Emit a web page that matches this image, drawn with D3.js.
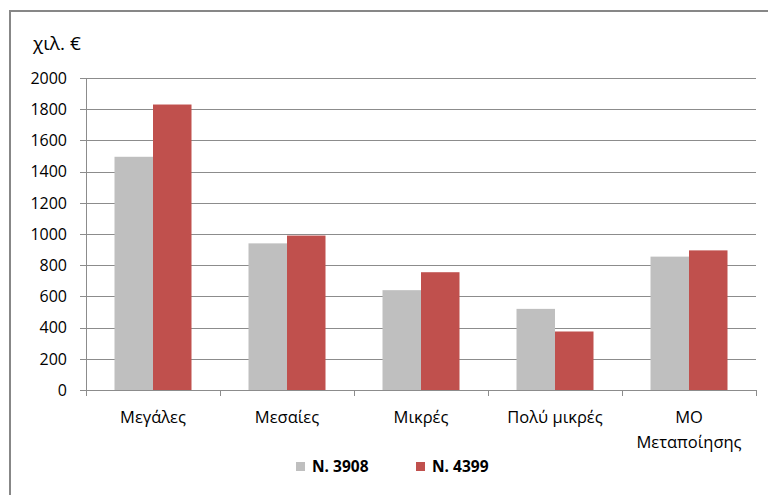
<!DOCTYPE html>
<html><head><meta charset="utf-8">
<script src="https://cdn.jsdelivr.net/npm/d3@7"></script>
<style>body{margin:0;background:#fff}svg{display:block}text{font-family:"Open Sans","Noto Sans",sans-serif}</style>
</head><body>
<svg id="c" width="768" height="495"></svg>
<script>
(function(){
const categories = [["Μεγάλες"],["Μεσαίες"],["Μικρές"],["Πολύ μικρές"],["ΜΟ","Μεταποίησης"]];
const seriesNames = ["N. 3908","N. 4399"];
const seriesColors = ["#BFBFBF","#C0504D"];
const values3908 = [1495, 940, 640, 520, 855];
const values4399 = [1830, 990, 755, 375, 895];
const yTicks = [0,200,400,600,800,1000,1200,1400,1600,1800,2000];
const yTitle = "χιλ. €";

const svg = d3.select("#c");
svg.append("rect").attr("x",10).attr("y",11).attr("width",800).attr("height",600)
  .attr("fill","#fff").attr("stroke","#878787").attr("stroke-width",2);

const pl=86, pr=756, pt=78, pb=390;
const x = d3.scaleBand().domain(d3.range(categories.length)).range([pl,pr]);
const y = d3.scaleLinear().domain([0,2000]).range([pb,pt]);
const barW = 38.5;

svg.append("g").selectAll("line").data(yTicks).join("line")
  .attr("x1",pl-6).attr("x2",pr).attr("y1",d=>Math.round(y(d))+0.5).attr("y2",d=>Math.round(y(d))+0.5)
  .attr("stroke","#8c8c8c").attr("stroke-width",1);

svg.append("g").selectAll("text").data(yTicks).join("text")
  .attr("x",67).attr("y",d=>y(d)).attr("dy","0.36em").attr("text-anchor","end")
  .attr("font-size",16).attr("fill","#000").text(d=>d);

const series=[values3908,values4399];
series.forEach((vals,si)=>{
  svg.append("g").selectAll("rect").data(vals).join("rect")
    .attr("x",(d,i)=>x(i)+x.bandwidth()/2-barW+si*barW)
    .attr("width",barW)
    .attr("y",d=>y(d)).attr("height",d=>pb-y(d))
    .attr("fill",seriesColors[si]);
});

svg.append("line").attr("x1",pl+0.5).attr("x2",pl+0.5).attr("y1",pt).attr("y2",pb+6).attr("stroke","#8c8c8c");
svg.append("line").attr("x1",pl).attr("x2",pr).attr("y1",pb+0.5).attr("y2",pb+0.5).attr("stroke","#8c8c8c");
svg.append("g").selectAll("line").data(d3.range(categories.length+1)).join("line")
  .attr("x1",i=>Math.round(pl+i*x.bandwidth())+0.5).attr("x2",i=>Math.round(pl+i*x.bandwidth())+0.5)
  .attr("y1",pb).attr("y2",pb+6).attr("stroke","#8c8c8c");

const xl = svg.append("g").selectAll("text").data(categories).join("text")
  .attr("x",(d,i)=>x(i)+x.bandwidth()/2).attr("y",423).attr("text-anchor","middle")
  .attr("font-size",16.5).attr("fill","#000");
xl.each(function(d){
  const t=d3.select(this);
  d.forEach((line,k)=>t.append("tspan").attr("x",t.attr("x")).attr("dy",k?25:0).text(line));
});

svg.append("text").attr("x",33).attr("y",50).attr("font-size",19).attr("fill","#000").text(yTitle);

const lg=[{x:296,tx:312},{x:416,tx:432}];
seriesNames.forEach((n,i)=>{
  svg.append("rect").attr("x",lg[i].x).attr("y",462).attr("width",9).attr("height",9).attr("fill",seriesColors[i]);
  svg.append("text").attr("x",lg[i].tx).attr("y",472).attr("font-size",15.5).attr("font-weight","bold").attr("fill","#000").text(n);
});
})();
</script>
</body></html>
